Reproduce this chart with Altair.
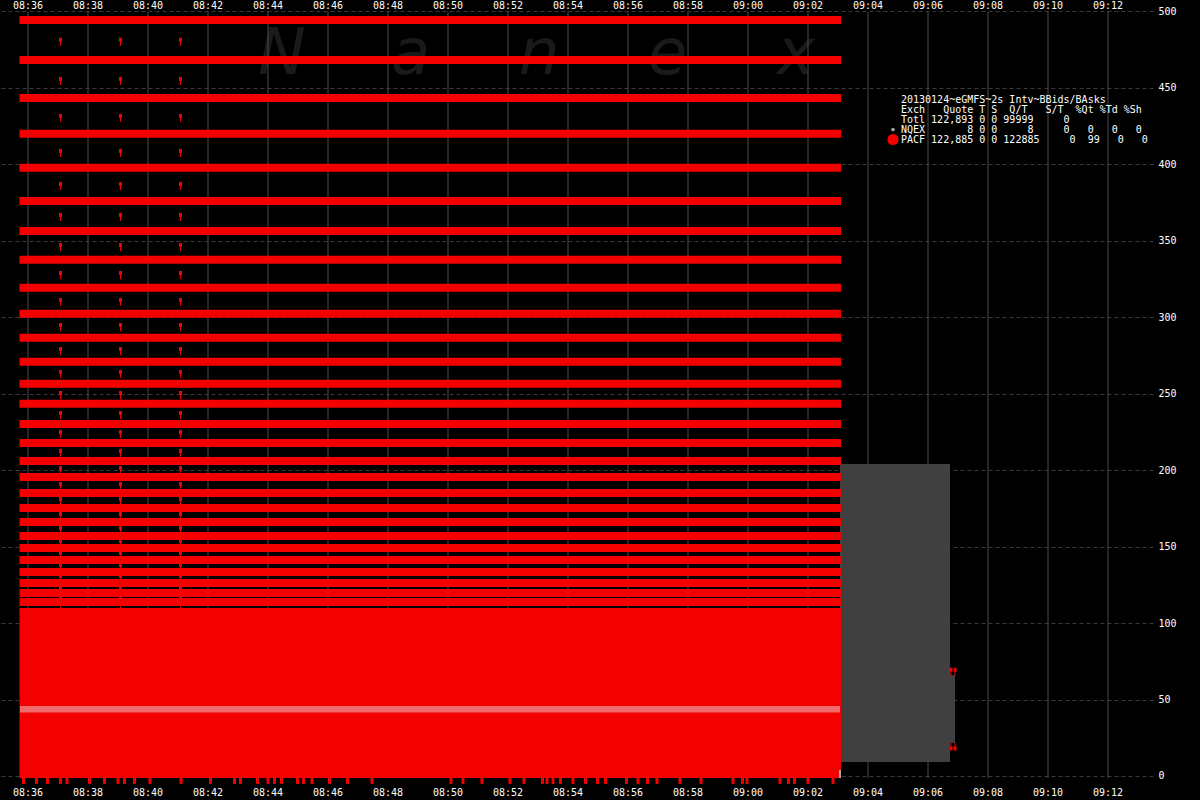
import altair as alt
import pandas as pd

# ---------------------------------------------------------------------------
# Data
# ---------------------------------------------------------------------------
TICK_LABELS = ["08:36", "08:38", "08:40", "08:42", "08:44", "08:46", "08:48",
               "08:50", "08:52", "08:54", "08:56", "08:58", "09:00", "09:02",
               "09:04", "09:06", "09:08", "09:10", "09:12"]
PRICE_TICKS = [0, 50, 100, 150, 200, 250, 300, 350, 400, 450, 500]

# PACF quote levels repeated through the stuffing burst
BAND_LEVELS = [494.3, 468.1, 443.3, 420.0, 397.7, 376.0, 356.4, 337.6, 319.3,
               302.3, 286.6, 270.9, 256.5, 243.4, 230.2, 217.7, 206.0, 195.5,
               185.0, 175.2, 166.1, 156.9, 149.1, 141.2, 133.4, 126.2, 119.7,
               113.8]
# Ask markers between the levels, printed every two minutes
MARKER_LEVELS = [481.4, 455.7, 431.5, 408.7, 387.1, 366.8, 347.2, 328.9, 311.2,
                 294.9, 279.2, 264.2, 250.4, 237.3, 224.9, 212.5, 201.4, 190.9,
                 181.1, 171.3, 162.2, 153.7, 145.8, 138.0, 130.8, 123.6, 117.7,
                 112.5]
MARKER_TIMES = ["08:37:05", "08:39:05", "08:41:05"]

BURST_START = "08:35:43"
BURST_END = "09:03:06"
BURST_LOW = -1.3     # dense quote block, bottom
BURST_HIGH = 109.8   # dense quote block, top
INSIDE_LEVEL = 43.6  # lighter band inside the dense block

# Individual low prints under the block
LOW_PRINT_TIMES = ["08:35:51", "08:36:17", "08:36:39", "08:37:05", "08:37:18",
                   "08:38:03", "08:38:33", "08:39:00", "08:39:13", "08:39:33",
                   "08:40:04", "08:41:06", "08:42:05", "08:42:53", "08:43:05",
                   "08:43:39", "08:44:00", "08:44:13", "08:44:27", "08:44:59",
                   "08:45:11", "08:45:28", "08:46:03", "08:46:39", "08:47:28",
                   "08:50:06", "08:50:30", "08:51:08", "08:52:04", "08:52:32",
                   "08:53:09", "08:53:18", "08:53:30", "08:53:45", "08:54:10",
                   "08:54:35", "08:54:59", "08:55:15", "08:55:57", "08:56:20",
                   "08:56:39", "08:56:58", "08:57:44", "08:58:26", "08:59:30",
                   "08:59:49", "08:59:58", "09:01:04", "09:01:21", "09:01:33",
                   "09:02:00", "09:02:50"]
LOW_PRINT_LOW = -5.2

# Best bid / best ask spread after the burst
SPREAD_START = ["09:03:04", "09:06:44"]
SPREAD_END = ["09:06:44", "09:06:54"]
SPREAD_BID = [9.2, 21.6]
SPREAD_ASK = [204.0, 66.0]

# Last PACF quotes
LATE_TIMES = ["09:06:46", "09:06:54"]
LATE_ASK = [69.5, 69.5]
LATE_BID = [17.9, 17.9]

# Single NQEX quote
NQEX_TIME = "09:03:04"
NQEX_LOW, NQEX_HIGH = -1.3, 3.9

LEGEND_LINES = [
    "20130124~eGMFS~2s Intv~BBids/BAsks",
    "Exch   Quote T S  Q/T   S/T  %Qt %Td %Sh",
    "Totl 122,893 0 0 99999     0",
    "NQEX       8 0 0     8     0   0   0   0",
    "PACF 122,885 0 0 122885     0  99   0   0",
]


def secs(hms):
    """Seconds after 08:36:00."""
    parts = [int(p) for p in hms.split(":")]
    if len(parts) == 2:
        parts.append(0)
    h, m, s = parts
    return h * 3600 + m * 60 + s - (8 * 3600 + 36 * 60)


# ---------------------------------------------------------------------------
# Styling
# ---------------------------------------------------------------------------
RED = "#f50000"
PINK = "#f06c6c"
SPREAD_GRAY = "#404040"
GRID_GRAY = "#4a4a4a"
MONO = "DejaVu Sans Mono"

xs = alt.Scale(domain=[-56, 2250], nice=False, zero=False)
ys = alt.Scale(domain=[-15.7, 507.4], nice=False, zero=False)

PRICE_AXIS = alt.Axis(
    orient="right", values=PRICE_TICKS, grid=True, gridColor="#3a3a3a",
    gridDash=[4, 3], gridWidth=1, ticks=False, domain=False,
    labelColor="white", labelFont=MONO, labelFontSize=10, labelPadding=5,
    labelAlign="left", labelBaseline="middle", title=None)

ASK_SHAPE = "M-0.375,-0.5H0.375V0.5H0.125V1.5H-0.125V0.5H-0.375Z"
BID_SHAPE = "M-0.375,0.5H0.375V-0.5H0.125V-1.5H-0.125V-0.5H-0.375Z"

# ---------------------------------------------------------------------------
# Frames
# ---------------------------------------------------------------------------
ticks_df = pd.DataFrame({"label": TICK_LABELS,
                         "t": [secs(t) for t in TICK_LABELS]})
bands_df = pd.DataFrame({"level": BAND_LEVELS,
                         "t0": secs(BURST_START), "t1": secs(BURST_END)})
block_df = pd.DataFrame({"t0": [secs(BURST_START)], "t1": [secs(BURST_END)],
                         "lo": [BURST_LOW], "hi": [BURST_HIGH]})
inside_df = pd.DataFrame({"t0": [secs("08:35:44")], "t1": [secs("09:03:04")],
                          "level": [INSIDE_LEVEL]})
markers_df = pd.DataFrame([{"t": secs(t), "level": v}
                           for t in MARKER_TIMES for v in MARKER_LEVELS])
prints_df = pd.DataFrame({"t": [secs(t) for t in LOW_PRINT_TIMES],
                          "lo": LOW_PRINT_LOW, "hi": BURST_LOW})
spread_df = pd.DataFrame({"t0": [secs(t) for t in SPREAD_START],
                          "t1": [secs(t) for t in SPREAD_END],
                          "bid": SPREAD_BID, "ask": SPREAD_ASK})
late_ask_df = pd.DataFrame({"t": [secs(t) for t in LATE_TIMES], "level": LATE_ASK})
late_bid_df = pd.DataFrame({"t": [secs(t) for t in LATE_TIMES], "level": LATE_BID})
nqex_df = pd.DataFrame({"t": [secs(NQEX_TIME)], "lo": [NQEX_LOW], "hi": [NQEX_HIGH]})
one = pd.DataFrame({"k": [0]})

X = lambda f: alt.X(f, type="quantitative", scale=xs, axis=None)
Y = lambda f: alt.Y(f, type="quantitative", scale=ys, axis=PRICE_AXIS)

# ---------------------------------------------------------------------------
# Layers
# ---------------------------------------------------------------------------
watermark = [
    alt.Chart(one).mark_text(text=ch, font="DejaVu Sans", fontStyle="italic",
                             fontSize=64, color="#1a1a1a", align="center",
                             baseline="alphabetic")
    .encode(x=alt.value(282 + 128.5 * i), y=alt.value(74))
    for i, ch in enumerate("Nanex")
]

vgrid = alt.Chart(ticks_df).mark_rule(color=GRID_GRAY, strokeWidth=1).encode(
    x=X("t"), y=alt.value(12), y2=alt.value(778))

spread = alt.Chart(spread_df).mark_rect(color=SPREAD_GRAY).encode(
    x=X("t0"), x2="t1", y=Y("bid"), y2="ask")

block = alt.Chart(block_df).mark_rect(color=RED).encode(
    x=X("t0"), x2="t1", y=Y("lo"), y2="hi")

bands = alt.Chart(bands_df).mark_rule(color=RED, strokeWidth=8).encode(
    x=X("t0"), x2="t1", y=Y("level"))

inside = alt.Chart(inside_df).mark_rule(color=PINK, strokeWidth=6.5).encode(
    x=X("t0"), x2="t1", y=Y("level"))

prints = alt.Chart(prints_df).mark_rule(color=RED, strokeWidth=3).encode(
    x=X("t"), y=Y("lo"), y2="hi")

nqex = alt.Chart(nqex_df).mark_rule(color="#a8a8a8", strokeWidth=2).encode(
    x=X("t"), y=Y("lo"), y2="hi")

markers = alt.Chart(markers_df).mark_point(
    shape=ASK_SHAPE, filled=True, size=64, color=RED, opacity=1, strokeWidth=0
).encode(x=X("t"), y=Y("level"))

late_ask = alt.Chart(late_ask_df).mark_point(
    shape=ASK_SHAPE, filled=True, size=64, color=RED, opacity=1, strokeWidth=0
).encode(x=X("t"), y=Y("level"))

late_bid = alt.Chart(late_bid_df).mark_point(
    shape=BID_SHAPE, filled=True, size=64, color=RED, opacity=1, strokeWidth=0
).encode(x=X("t"), y=Y("level"))

top_labels = alt.Chart(ticks_df).mark_text(
    font=MONO, fontSize=10, color="white", align="center", baseline="middle"
).encode(x=X("t"), y=alt.value(5.5), text="label:N")

bottom_labels = alt.Chart(ticks_df).mark_text(
    font=MONO, fontSize=10, color="white", align="center", baseline="middle"
).encode(x=X("t"), y=alt.value(793), text="label:N")

legend_text = [
    alt.Chart(one).mark_text(text=line.replace(" ", "\u00a0"), font=MONO,
                             fontSize=10, color="white", align="left",
                             baseline="middle")
    .encode(x=alt.value(901), y=alt.value(y))
    for line, y in zip(LEGEND_LINES, [100, 109.5, 119.5, 129.5, 139.5])
]

legend_dots = [
    alt.Chart(one).mark_point(shape="circle", filled=True, size=14,
                              color="#a0a0a0", opacity=1)
    .encode(x=alt.value(893), y=alt.value(129.5)),
    alt.Chart(one).mark_point(shape="circle", filled=True, size=125,
                              color=RED, opacity=1)
    .encode(x=alt.value(893), y=alt.value(139.5)),
]

chart = alt.layer(
    *watermark, vgrid, spread, block, bands, inside, prints, nqex,
    markers, late_ask, late_bid, top_labels, bottom_labels,
    *legend_text, *legend_dots,
).properties(
    width=1153, height=800, background="#000000",
    padding={"left": 0, "top": 0, "right": 47, "bottom": 0},
    autosize=alt.AutoSizeParams(type="none"),
).configure_view(strokeWidth=0, fill="#000000")

chart.save("out.html", embed_options={"renderer": "svg", "actions": False})
